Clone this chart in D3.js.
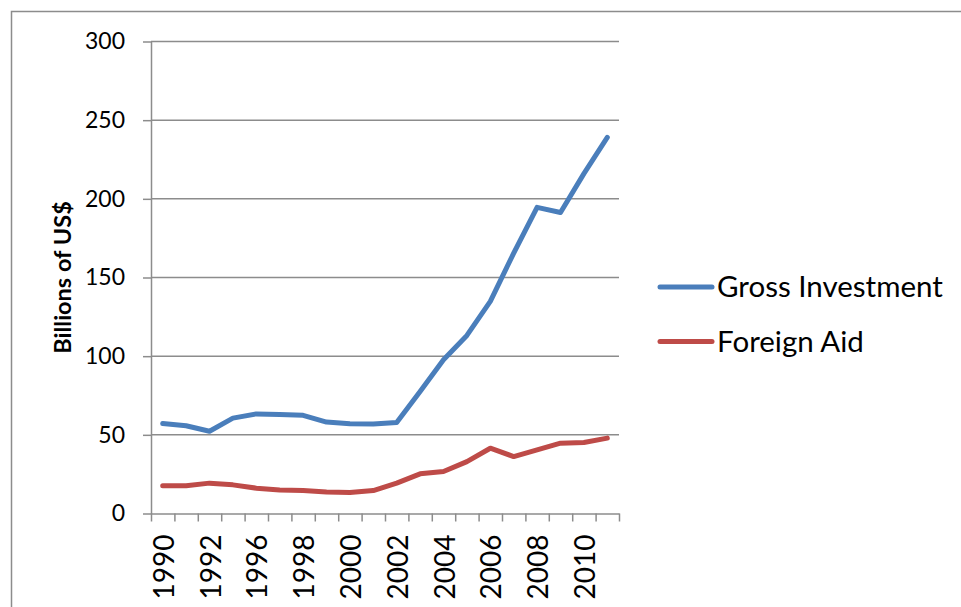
<!DOCTYPE html>
<html>
<head>
<meta charset="utf-8">
<script src="https://cdn.jsdelivr.net/npm/d3@7"></script>
<style>
  html, body { margin: 0; padding: 0; background: #ffffff; }
  svg { display: block; }
  text { font-family: Lato, "Open Sans", sans-serif; fill: #000; }
</style>
</head>
<body>
<svg id="chart" width="961" height="607"></svg>
<script>
// Category labels (years) along the horizontal axis
const years = ["1990","1991","1992","1994","1996","1997","1998","1999","2000","2001",
               "2002","2003","2004","2005","2006","2007","2008","2009","2010","2011"];

// Series values, billions of US$
const grossInvestment = [57.2, 55.8, 52.3, 60.6, 63.3, 63.0, 62.4, 58.1, 57.0, 56.9,
                         57.8, 77.5, 97.7, 113.2, 134.8, 165.5, 194.6, 191.3, 216.0, 239.0];
const foreignAid      = [17.6, 17.6, 19.3, 18.2, 16.1, 15.0, 14.6, 13.6, 13.3, 14.6,
                         19.3, 25.2, 26.7, 33.0, 41.5, 36.2, 40.5, 44.7, 45.1, 47.9];

const seriesNames = ["Gross Investment", "Foreign Aid"];
const seriesColors = ["#4a7ebb", "#be4b48"];

// Value-axis ticks
const yTicks = [0, 50, 100, 150, 200, 250, 300];

const svg = d3.select("#chart");
const gridColor = "#8c8c8c";

// Plot area
const plot = { left: 151, right: 619, top: 41.5, bottom: 513.5 };

const x = d3.scaleBand().domain(years).range([plot.left, plot.right]).padding(0);
const xEdge = d3.scaleLinear().domain([0, years.length]).range([plot.left, plot.right]);
const y = d3.scaleLinear().domain([0, 300]).range([plot.bottom, plot.top]);

// Chart frame
svg.append("rect")
  .attr("x", 11.5).attr("y", 11.5)
  .attr("width", 1100).attr("height", 800)
  .attr("fill", "none").attr("stroke", gridColor).attr("stroke-width", 1.5);

// Horizontal gridlines
svg.append("g")
  .selectAll("line")
  .data(yTicks.filter(d => d > 0))
  .join("line")
  .attr("x1", plot.left).attr("x2", plot.right)
  .attr("y1", d => y(d)).attr("y2", d => y(d))
  .attr("stroke", gridColor).attr("stroke-width", 1.5);

// Value axis
const yAxis = svg.append("g")
  .attr("transform", `translate(${plot.left},0)`)
  .call(d3.axisLeft(y).tickValues(yTicks).tickSize(8).tickPadding(18).tickSizeOuter(0));
yAxis.select(".domain").attr("stroke", gridColor).attr("stroke-width", 1.5);
yAxis.selectAll(".tick line").attr("stroke", gridColor).attr("stroke-width", 1.5);
yAxis.selectAll(".tick text")
  .style("font-family", "Lato, sans-serif")
  .style("font-size", "23px")
  .attr("fill", "#000");

// Category axis: ticks on category boundaries
const xAxis = svg.append("g")
  .attr("transform", `translate(0,${plot.bottom})`)
  .call(d3.axisBottom(xEdge).tickValues(d3.range(0, years.length + 1)).tickSize(8).tickFormat("").tickSizeOuter(0));
xAxis.select(".domain").attr("stroke", gridColor).attr("stroke-width", 1.5);
xAxis.selectAll(".tick line").attr("stroke", gridColor).attr("stroke-width", 1.5);

// Category labels, every second category, rotated
svg.append("g")
  .selectAll("text")
  .data(years.filter((d, i) => i % 2 === 0))
  .join("text")
  .attr("transform", d => `translate(${x(d) + x.bandwidth() / 2},${plot.bottom + 21}) rotate(-90)`)
  .attr("text-anchor", "end")
  .attr("dominant-baseline", "central")
  .style("font-size", "28px")
  .text(d => d);

// Axis title
svg.append("text")
  .attr("transform", `translate(62,${(plot.top + plot.bottom) / 2}) rotate(-90)`)
  .attr("text-anchor", "middle")
  .attr("dominant-baseline", "central")
  .style("font-size", "23.5px")
  .style("font-weight", "bold")
  .text("Billions of US$");

// Series lines
const line = d3.line()
  .x((d, i) => x(years[i]) + x.bandwidth() / 2)
  .y(d => y(d));

[grossInvestment, foreignAid].forEach((values, k) => {
  svg.append("path")
    .datum(values)
    .attr("d", line)
    .attr("fill", "none")
    .attr("stroke", seriesColors[k])
    .attr("stroke-width", 5)
    .attr("stroke-linejoin", "round")
    .attr("stroke-linecap", "round");
});

// Legend
const legend = svg.append("g").attr("transform", "translate(660,287)");
const legendRow = legend.selectAll("g")
  .data(seriesNames)
  .join("g")
  .attr("transform", (d, i) => `translate(0,${i * 54.5})`);
legendRow.append("line")
  .attr("x1", 0).attr("x2", 52)
  .attr("stroke", (d, i) => seriesColors[i])
  .attr("stroke-width", 5)
  .attr("stroke-linecap", "round");
legendRow.append("text")
  .attr("x", 57)
  .attr("y", 10)
  .style("font-size", "29.5px")
  .text(d => d);
</script>
</body>
</html>
